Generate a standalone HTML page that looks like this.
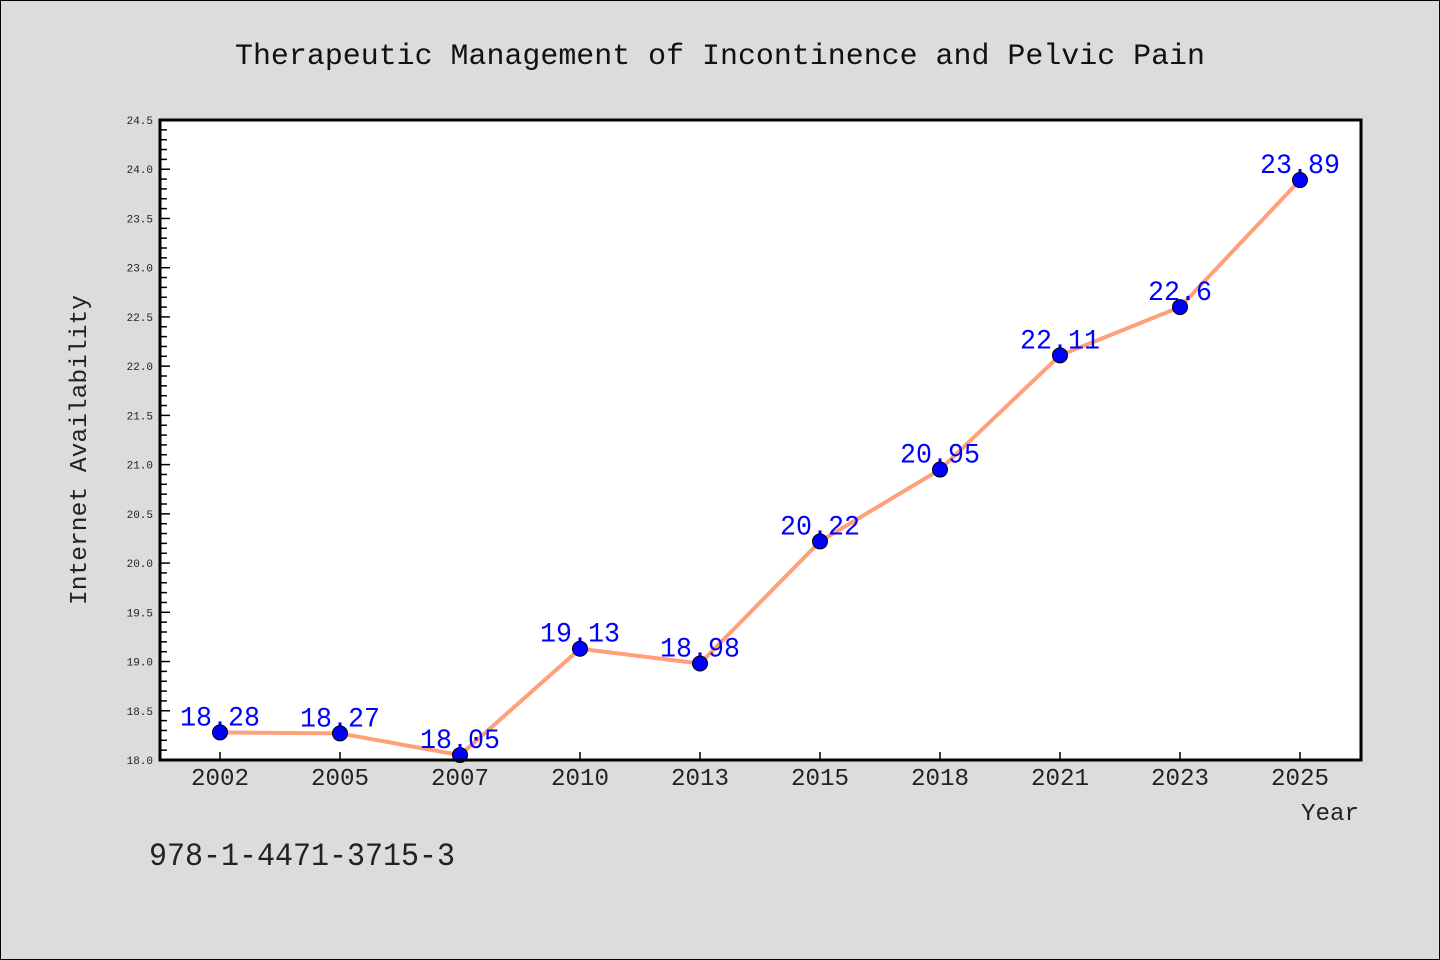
<!DOCTYPE html>
<html><head><meta charset="utf-8"><style>
html,body{margin:0;padding:0;background:#dcdcdc;}
svg{display:block;font-family:"WenQuanYi Zen Hei Mono","WenQuanYi Zen Hei","Liberation Mono",monospace;}
</style></head><body>
<svg id="chart" width="1440" height="960">
<rect x="0.5" y="0.5" width="1439" height="959" fill="#dcdcdc" stroke="#000" stroke-width="1"/>
<text x="720" y="64" text-anchor="middle" font-size="30" textLength="970" lengthAdjust="spacingAndGlyphs" fill="#111">Therapeutic Management of Incontinence and Pelvic Pain</text>
<rect x="160" y="120" width="1201" height="640" fill="#fff"/>
<g id="yticks"></g>
<g id="xticks"></g>
<g id="series"></g>
<rect x="160" y="120" width="1201" height="640" fill="none" stroke="#000" stroke-width="3"/>
<text transform="translate(86,450) rotate(-90)" text-anchor="middle" font-size="24" textLength="310" lengthAdjust="spacingAndGlyphs" fill="#222">Internet Availability</text>
<text x="1359" y="820" text-anchor="end" font-size="24" textLength="58" lengthAdjust="spacingAndGlyphs" fill="#222">Year</text>
<text x="149" y="865" font-size="32" textLength="306" lengthAdjust="spacingAndGlyphs" fill="#222">978-1-4471-3715-3</text>
</svg>
<script>
const categories=["2002","2005","2007","2010","2013","2015","2018","2021","2023","2025"];
const values=[18.28,18.27,18.05,19.13,18.98,20.22,20.95,22.11,22.6,23.89];
const valueLabels=["18.28","18.27","18.05","19.13","18.98","20.22","20.95","22.11","22.6","23.89"];
const yTicks=["18.0","18.5","19.0","19.5","20.0","20.5","21.0","21.5","22.0","22.5","23.0","23.5","24.0","24.5"];
const NS="http://www.w3.org/2000/svg";
const L=160,R=1360,T=120,B=760,yMin=18,yMax=24.5;
const y=v=>B-(v-yMin)/(yMax-yMin)*(B-T);
const x=i=>L+(R-L)/categories.length*(i+0.5);
function mk(t,a,p){const e=document.createElementNS(NS,t);for(const k in a)e.setAttribute(k,a[k]);p.appendChild(e);return e;}
const yg=document.getElementById('yticks');
for(let v=yMin;v<=yMax+1e-9;v+=0.1){
  const major=Math.abs(v*2-Math.round(v*2))<1e-6;
  const ln=mk('line',{x1:L,x2:L+(major?10:7),y1:y(v),y2:y(v),stroke:'#000','stroke-width':1.5},yg);
  
  
}
yTicks.forEach(s=>{
  const t=mk('text',{x:153,y:y(parseFloat(s))+4,'text-anchor':'end','font-size':11,fill:'#222'},yg);
  t.textContent=s;
  
  
});
const xg=document.getElementById('xticks');
categories.forEach((c,i)=>{
  const ln=mk('line',{x1:x(i),x2:x(i),y1:B,y2:B-8,stroke:'#000','stroke-width':1.5},xg);
  
  
  const t=mk('text',{x:x(i),y:785,'text-anchor':'middle','font-size':24,textLength:58,lengthAdjust:'spacingAndGlyphs',fill:'#222'},xg);
  t.textContent=c;
  
  
});
const sg=document.getElementById('series');
const pl=mk('polyline',{points:values.map((v,i)=>x(i)+','+y(v)).join(' '),fill:'none',stroke:'#ffa07a','stroke-width':4,'stroke-linejoin':'round'},sg);


values.forEach((v,i)=>{
  const t=mk('text',{x:x(i),y:y(v)-7,'text-anchor':'middle','font-size':28,textLength:valueLabels[i].length*16,lengthAdjust:'spacingAndGlyphs',fill:'#0000ff'},sg);
  t.textContent=valueLabels[i];
  
  
});
values.forEach((v,i)=>{
  const c=mk('circle',{cx:x(i),cy:y(v),r:7.5,fill:'#0000ff',stroke:'#000','stroke-width':1},sg);
  
  
});
</script>
</body></html>
